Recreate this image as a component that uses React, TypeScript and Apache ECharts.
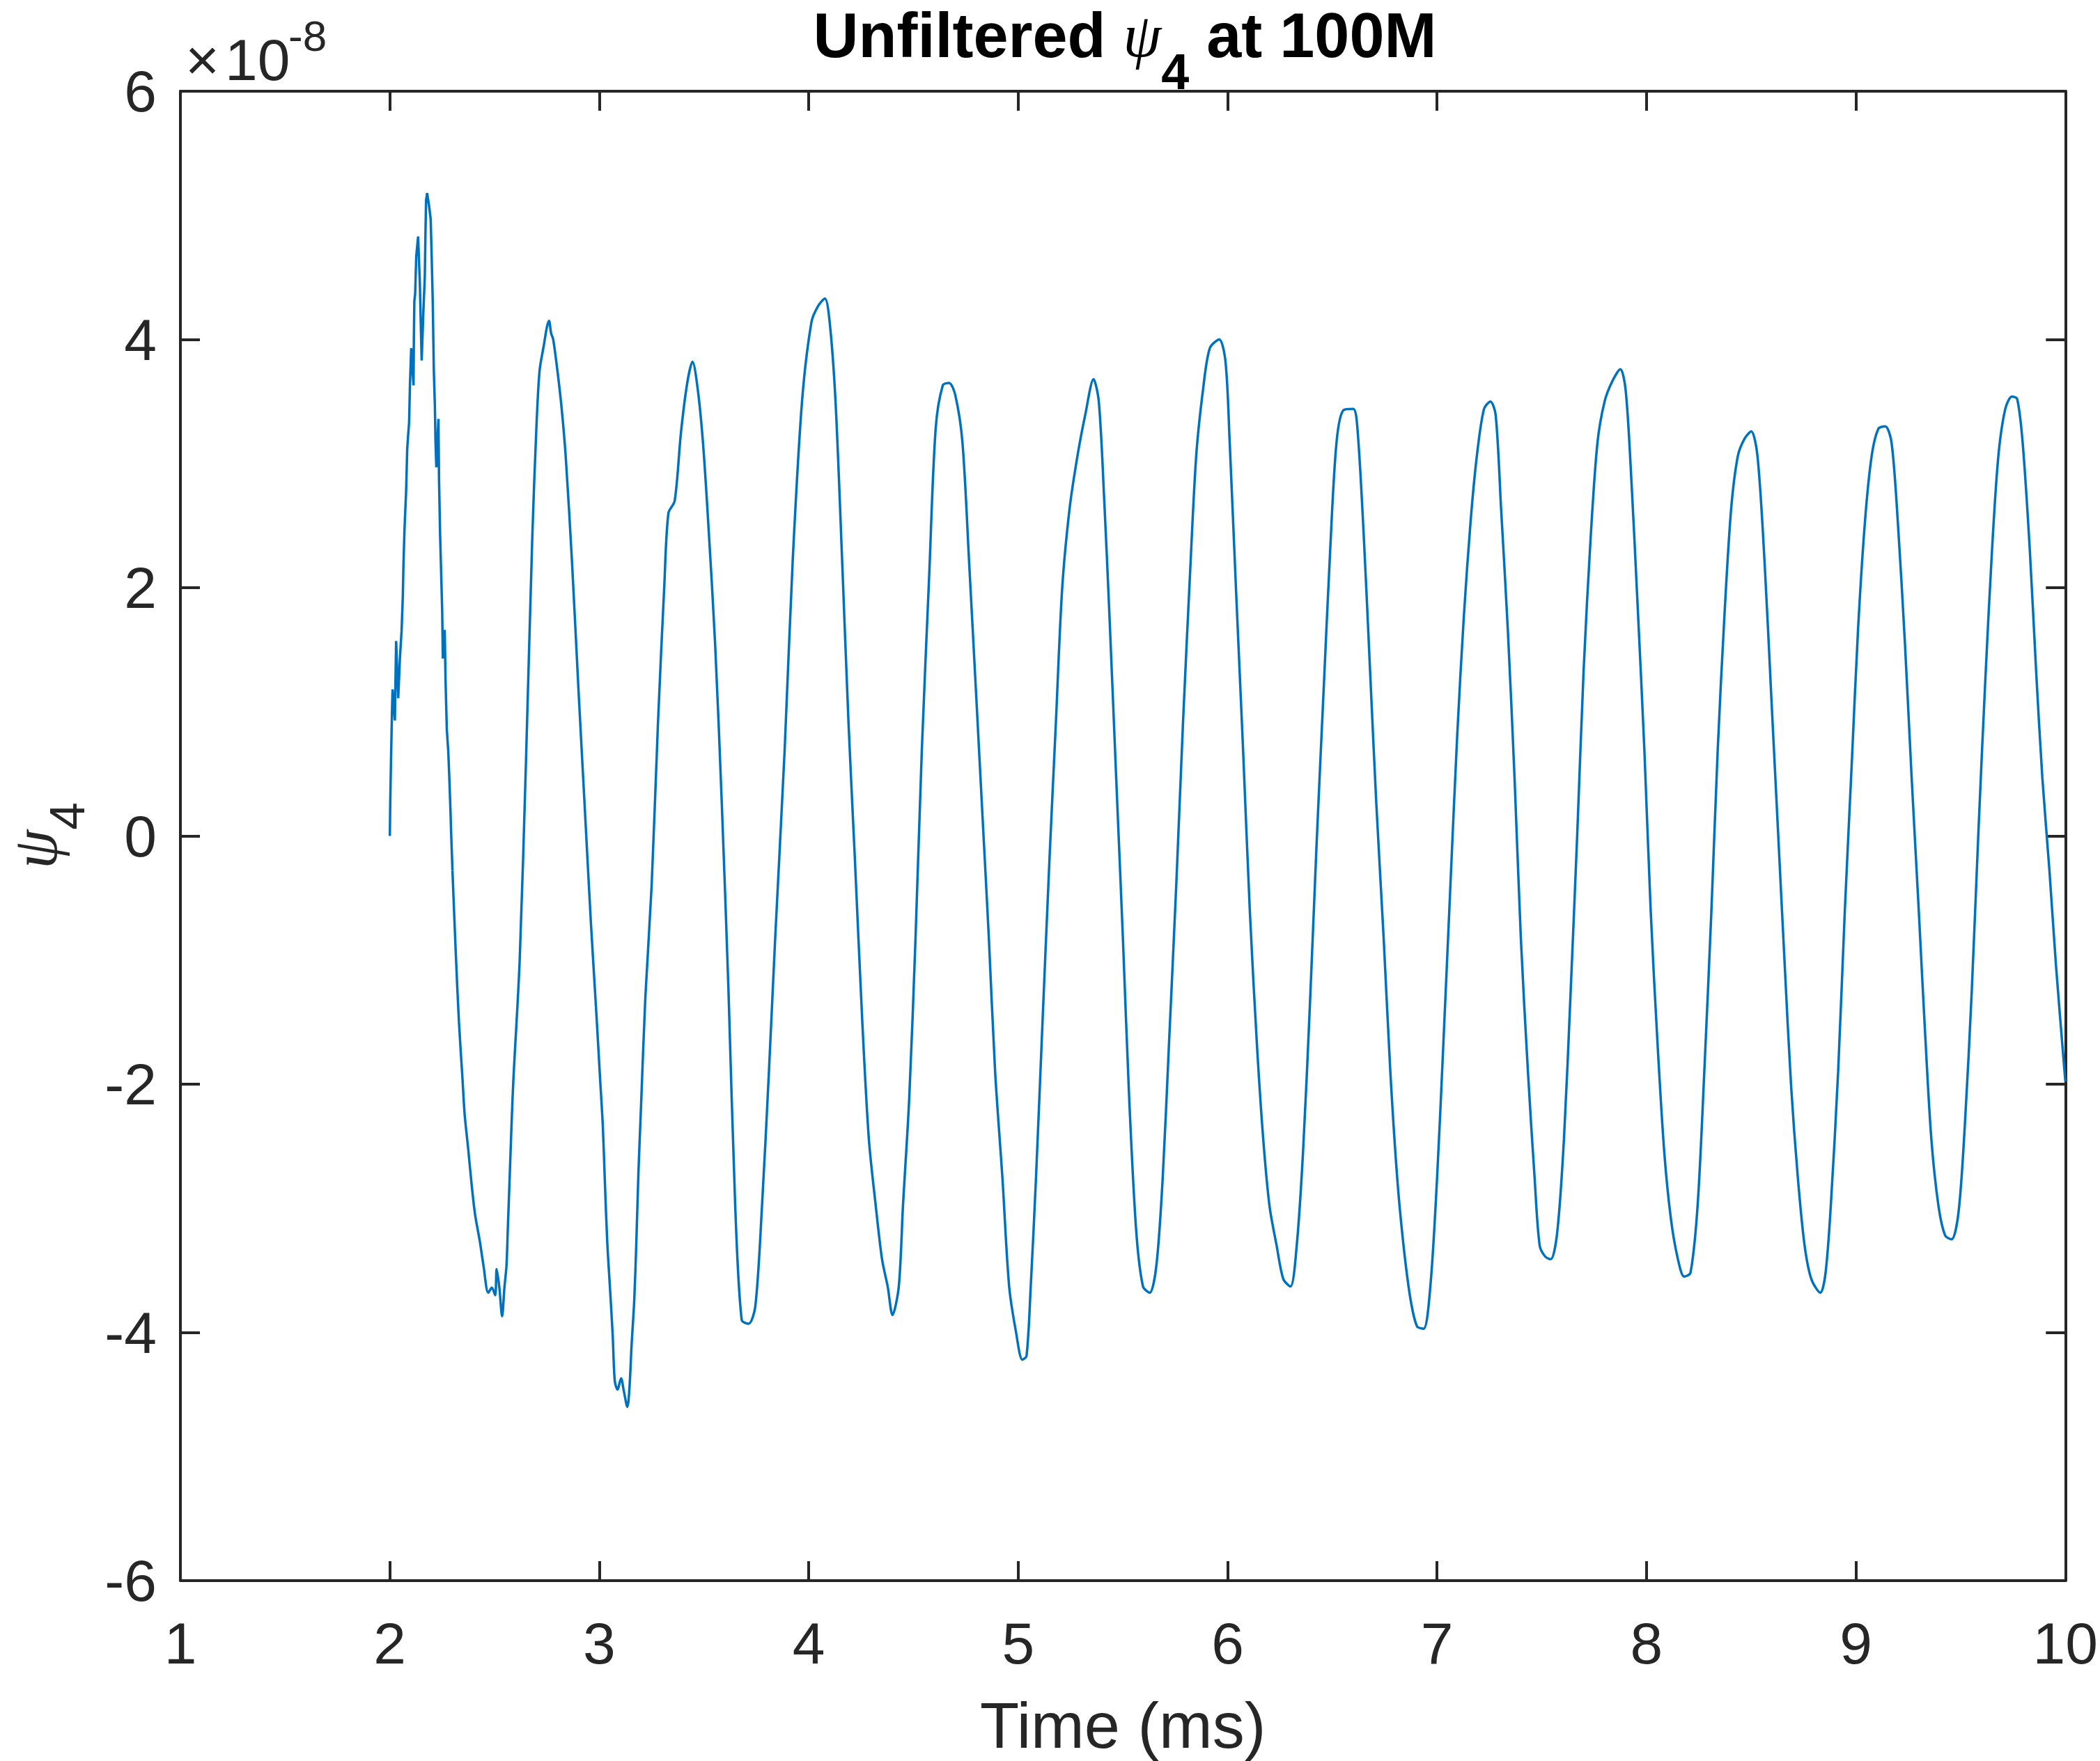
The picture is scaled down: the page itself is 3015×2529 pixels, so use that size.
import React, { useEffect, useRef } from "react";
import * as echarts from "echarts";

// Time (ms)
const timeMs = [
  2.000, 2.002, 2.006, 2.010, 2.013, 2.024, 2.030, 2.040, 2.048, 2.056,
  2.062, 2.065, 2.070, 2.078, 2.083, 2.087, 2.092, 2.096, 2.102, 2.113,
  2.115, 2.117, 2.121, 2.126, 2.135, 2.143, 2.152, 2.160, 2.167, 2.170,
  2.173, 2.178, 2.187, 2.195, 2.200, 2.205, 2.210, 2.215, 2.218, 2.222,
  2.232, 2.235, 2.240, 2.246, 2.250, 2.253, 2.262, 2.266, 2.272, 2.279,
  2.284, 2.290, 2.292, 2.299, 2.315, 2.330, 2.347, 2.357, 2.374, 2.390,
  2.407, 2.430, 2.447, 2.470, 2.487, 2.503, 2.510, 2.523, 2.536, 2.547,
  2.557, 2.563, 2.573, 2.583, 2.590, 2.620, 2.650, 2.680, 2.700, 2.715,
  2.735, 2.750, 2.760, 2.770, 2.780, 2.800, 2.820, 2.840, 2.870, 2.900,
  2.930, 2.960, 2.985, 3.004, 3.017, 3.027, 3.038, 3.051, 3.064, 3.074,
  3.087, 3.104, 3.117, 3.134, 3.144, 3.154, 3.167, 3.177, 3.187, 3.200,
  3.220, 3.250, 3.280, 3.310, 3.330, 3.360, 3.390, 3.420, 3.445, 3.470,
  3.495, 3.520, 3.553, 3.585, 3.617, 3.649, 3.680, 3.713, 3.745, 3.777,
  3.810, 3.840, 3.885, 3.923, 3.968, 4.013, 4.045, 4.077, 4.100, 4.128,
  4.160, 4.190, 4.220, 4.255, 4.287, 4.320, 4.350, 4.377, 4.400, 4.430,
  4.450, 4.480, 4.510, 4.540, 4.575, 4.606, 4.640, 4.670, 4.700, 4.734,
  4.766, 4.800, 4.830, 4.860, 4.890, 4.925, 4.957, 4.990, 5.020, 5.040,
  5.060, 5.085, 5.117, 5.150, 5.180, 5.210, 5.245, 5.283, 5.320, 5.360,
  5.385, 5.410, 5.436, 5.468, 5.500, 5.530, 5.564, 5.596, 5.628, 5.660,
  5.690, 5.720, 5.755, 5.787, 5.820, 5.850, 5.883, 5.915, 5.960, 5.990,
  6.010, 6.040, 6.074, 6.106, 6.140, 6.170, 6.200, 6.234, 6.266, 6.300,
  6.330, 6.360, 6.393, 6.425, 6.457, 6.490, 6.520, 6.553, 6.600, 6.620,
  6.650, 6.680, 6.710, 6.745, 6.777, 6.810, 6.840, 6.873, 6.904, 6.936,
  6.968, 7.000, 7.030, 7.064, 7.096, 7.128, 7.160, 7.190, 7.224, 7.255,
  7.280, 7.306, 7.338, 7.370, 7.400, 7.434, 7.466, 7.490, 7.517, 7.543,
  7.574, 7.606, 7.638, 7.670, 7.700, 7.734, 7.766, 7.800, 7.836, 7.875,
  7.900, 7.925, 7.957, 7.990, 8.020, 8.053, 8.085, 8.117, 8.150, 8.180,
  8.210, 8.244, 8.276, 8.310, 8.340, 8.372, 8.404, 8.436, 8.468, 8.500,
  8.530, 8.564, 8.596, 8.628, 8.660, 8.690, 8.723, 8.755, 8.787, 8.830,
  8.855, 8.880, 8.915, 8.947, 8.980, 9.010, 9.043, 9.075, 9.107, 9.140,
  9.170, 9.200, 9.234, 9.266, 9.300, 9.330, 9.360, 9.394, 9.426, 9.457,
  9.490, 9.520, 9.553, 9.585, 9.617, 9.650, 9.680, 9.713, 9.745, 9.770,
  9.796, 9.830, 9.860, 9.890, 9.924, 9.955, 10.000,
];

// psi_4, in units of 1e-8
const psi4 = [
  0.00, 0.27, 0.65, 0.98, 1.18, 0.93, 1.57, 1.11, 1.43, 1.65,
  1.93, 2.18, 2.47, 2.79, 3.12, 3.22, 3.33, 3.63, 3.93, 3.63,
  4.04, 4.31, 4.37, 4.67, 4.83, 4.47, 3.83, 4.22, 4.51, 4.85,
  5.12, 5.18, 5.08, 4.97, 4.65, 4.29, 3.75, 3.47, 3.18, 2.97,
  3.36, 2.86, 2.43, 2.06, 1.81, 1.43, 1.66, 1.25, 0.86, 0.68,
  0.47, 0.18, 0.06, -0.28, -0.95, -1.50, -1.96, -2.24, -2.52, -2.80,
  -3.05, -3.27, -3.46, -3.68, -3.64, -3.70, -3.49, -3.64, -3.87, -3.64,
  -3.46, -3.18, -2.71, -2.24, -1.96, -1.00, 0.60, 2.40, 3.30, 3.75,
  3.95, 4.10, 4.15, 4.05, 4.00, 3.75, 3.45, 3.05, 2.20, 1.20,
  0.25, -0.70, -1.40, -1.96, -2.34, -2.80, -3.27, -3.64, -4.02, -4.39,
  -4.46, -4.37, -4.47, -4.60, -4.45, -4.11, -3.74, -3.27, -2.71, -2.15,
  -1.30, -0.40, 0.90, 2.00, 2.60, 2.70, 3.25, 3.65, 3.82, 3.60,
  3.17, 2.53, 1.55, 0.26, -1.25, -2.98, -3.90, -3.93, -3.79, -2.98,
  -1.90, -0.82, 0.69, 2.20, 3.50, 4.14, 4.27, 4.33, 4.14, 3.50,
  2.20, 0.91, -0.17, -1.47, -2.44, -2.98, -3.41, -3.63, -3.86, -3.63,
  -2.98, -2.11, -0.82, 0.69, 2.09, 3.28, 3.63, 3.65, 3.55, 3.17,
  2.20, 1.12, 0.15, -0.82, -1.90, -2.76, -3.63, -4.00, -4.22, -4.19,
  -3.63, -2.76, -1.47, -0.17, 0.91, 1.99, 2.63, 3.06, 3.39, 3.68,
  3.50, 2.74, 1.77, 0.47, -0.82, -2.11, -3.19, -3.63, -3.68, -3.46,
  -2.76, -1.68, -0.39, 0.91, 2.09, 3.06, 3.60, 3.93, 4.00, 3.82,
  3.17, 1.99, 0.69, -0.60, -1.68, -2.44, -2.98, -3.30, -3.57, -3.63,
  -3.30, -2.55, -1.36, -0.06, 1.12, 2.31, 3.17, 3.43, 3.44, 3.28,
  2.42, 1.34, 0.26, -0.82, -1.90, -2.76, -3.30, -3.73, -3.95, -3.97,
  -3.63, -2.76, -1.68, -0.39, 0.80, 1.77, 2.53, 3.06, 3.44, 3.50,
  3.39, 2.63, 1.66, 0.47, -0.82, -1.90, -2.76, -3.30, -3.39, -3.41,
  -3.19, -2.44, -1.25, 0.04, 1.34, 2.42, 3.17, 3.50, 3.66, 3.76,
  3.60, 2.96, 1.88, 0.69, -0.60, -1.68, -2.55, -3.09, -3.41, -3.55,
  -3.52, -2.98, -1.90, -0.60, 0.69, 1.77, 2.63, 3.06, 3.20, 3.26,
  3.06, 2.20, 1.12, 0.04, -1.04, -2.00, -2.76, -3.30, -3.57, -3.68,
  -3.52, -2.98, -1.90, -0.60, 0.58, 1.66, 2.53, 3.06, 3.28, 3.30,
  3.17, 2.53, 1.55, 0.47, -0.60, -1.58, -2.44, -2.98, -3.22, -3.25,
  -3.03, -2.33, -1.25, 0.04, 1.23, 2.31, 3.06, 3.44, 3.54, 3.52,
  3.17, 2.31, 1.34, 0.47, -0.28, -1.04, -1.98,
];

// the noisy onset (drawn without smoothing) ends at this sample index
const noisyEndIndex = 53;

const xRange = [1, 10];
const xStep = 1;
const yRange = [-6, 6];
const yStep = 2;

const titleText = "{b|Unfiltered }{psi|ψ}{sub|4}{b| at 100M}";
const xName = "Time (ms)";
const yNameText = "{psi|ψ}{sub|4}";
const expBase = "10";
const expPower = "-8";

const AX = "#262626";
const SANS = "Liberation Sans";
const SERIF = "Liberation Serif";

export default function App() {
  const ref = useRef<HTMLDivElement>(null);

  useEffect(() => {
    document.body.style.margin = "0";
    document.body.style.overflow = "hidden";
    const chart = echarts.init(ref.current as HTMLDivElement, null, { renderer: "svg" });

    const axisLine = { show: true, onZero: false, lineStyle: { color: AX, width: 4 } };
    const axisTick = { show: true, inside: true, length: 28, lineStyle: { color: AX, width: 4 } };

    const points = timeMs.map((t, i) => [t, psi4[i]]);
    const lineStyle = { color: "#0072BD", width: 3.5 };

    const option: any = {
      animation: false,
      backgroundColor: "#ffffff",
      grid: { left: 259, right: 44, top: 131, bottom: 259, containLabel: false },
      xAxis: [
        {
          type: "value",
          position: "bottom",
          min: xRange[0],
          max: xRange[1],
          interval: xStep,
          name: xName,
          nameLocation: "middle",
          nameGap: 162,
          nameTextStyle: { fontFamily: SANS, fontSize: 92, color: AX },
          axisLine,
          axisTick,
          splitLine: { show: false },
          axisLabel: {
            show: true,
            margin: 48,
            fontFamily: SANS,
            fontSize: 84,
            color: AX,
            showMinLabel: true,
            showMaxLabel: true,
          },
        },
        {
          type: "value",
          position: "top",
          min: xRange[0],
          max: xRange[1],
          interval: xStep,
          axisLine,
          axisTick,
          splitLine: { show: false },
          axisLabel: { show: false },
        },
      ],
      yAxis: [
        {
          type: "value",
          position: "left",
          min: yRange[0],
          max: yRange[1],
          interval: yStep,
          axisLine,
          axisTick,
          splitLine: { show: false },
          axisLabel: {
            show: true,
            margin: 34,
            fontFamily: SANS,
            fontSize: 84,
            color: AX,
            showMinLabel: true,
            showMaxLabel: true,
          },
        },
        {
          type: "value",
          position: "right",
          min: yRange[0],
          max: yRange[1],
          interval: yStep,
          axisLine,
          axisTick,
          splitLine: { show: false },
          axisLabel: { show: false },
        },
      ],
      series: [
        {
          type: "line",
          xAxisIndex: 0,
          yAxisIndex: 0,
          data: points.slice(0, noisyEndIndex + 1),
          showSymbol: false,
          symbol: "none",
          smooth: false,
          lineStyle,
        },
        {
          type: "line",
          xAxisIndex: 0,
          yAxisIndex: 0,
          data: points.slice(noisyEndIndex),
          showSymbol: false,
          symbol: "none",
          smooth: 0.3,
          lineStyle,
        },
      ],
      graphic: [
        {
          type: "text",
          x: 1615,
          y: 51,
          style: {
            text: titleText,
            align: "center",
            verticalAlign: "middle",
            rich: {
              b: { fontFamily: SANS, fontWeight: "bold", fontSize: 90, fill: "#000" },
              psi: { fontFamily: SERIF, fontStyle: "italic", fontSize: 88, fill: "#000" },
              sub: {
                fontFamily: SANS,
                fontWeight: "bold",
                fontSize: 72,
                fill: "#000",
                padding: [103, 0, 0, 0],
              },
            },
          },
        },
        {
          type: "text",
          x: 50,
          y: 1200,
          rotation: Math.PI / 2,
          style: {
            text: yNameText,
            align: "center",
            verticalAlign: "middle",
            rich: {
              psi: { fontFamily: SERIF, fontStyle: "italic", fontSize: 90, fill: AX },
              sub: { fontFamily: SANS, fontSize: 71, fill: AX, padding: [92, 0, 0, 0] },
            },
          },
        },
        {
          type: "text",
          x: 266,
          y: 86,
          style: { text: "×", fontFamily: SANS, fontSize: 84, fill: AX, align: "left", verticalAlign: "middle" },
        },
        {
          type: "text",
          x: 323,
          y: 86,
          style: { text: expBase, fontFamily: SANS, fontSize: 84, fill: AX, align: "left", verticalAlign: "middle" },
        },
        {
          type: "text",
          x: 414,
          y: 51,
          style: { text: expPower, fontFamily: SANS, fontSize: 62, fill: AX, align: "left", verticalAlign: "middle" },
        },
      ],
    };

    chart.setOption(option);
    return () => chart.dispose();
  }, []);

  return (
    <div
      ref={ref}
      style={{ position: "absolute", left: 0, top: 0, width: 3015, height: 2529, background: "#ffffff" }}
    />
  );
}
